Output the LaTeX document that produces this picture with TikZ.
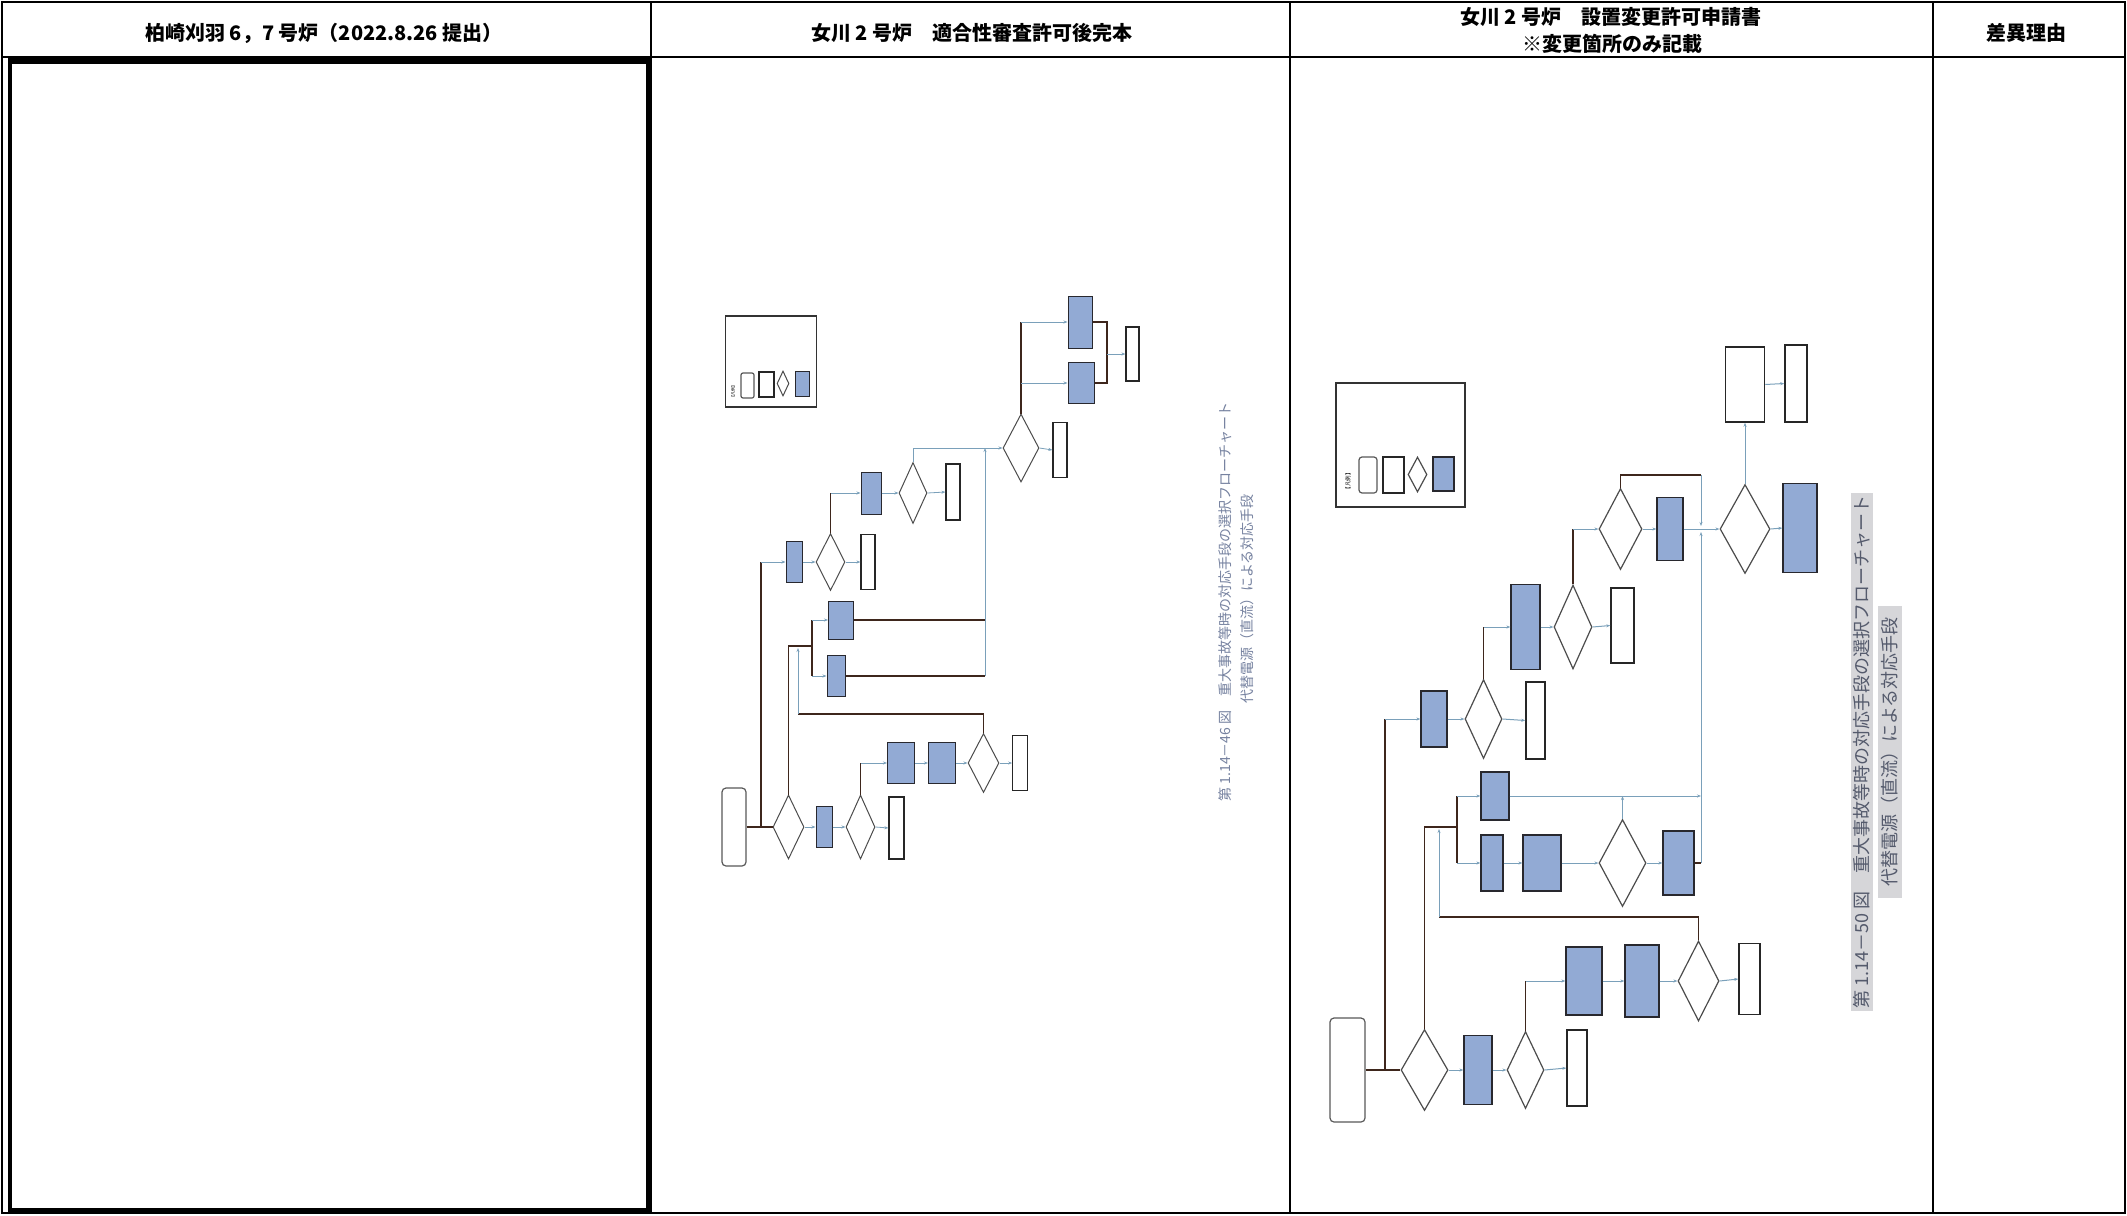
\documentclass[tikz,border=0pt]{standalone}
\usepackage{fontspec}
\setmainfont{Noto Sans CJK JP}
\usetikzlibrary{positioning, arrows.meta, shapes.geometric}

\definecolor{flowblue}{RGB}{122,160,186}
\definecolor{darkbrown}{RGB}{62,38,28}
\definecolor{boxblue}{RGB}{146,170,212}
\definecolor{boxedge}{RGB}{40,40,46}
\definecolor{capgray}{RGB}{214,214,217}
\definecolor{captext}{RGB}{84,90,108}
\definecolor{capfaint}{RGB}{118,130,160}

\begin{document}
\begin{tikzpicture}[x=1pt, y=-1pt]
	\tikzset{
		sz/.style 2 args={minimum width=#1pt, minimum height=#2pt, inner sep=0pt},
		bluebox/.style={rectangle, draw=boxedge, fill=boxblue, line width=1.3pt},
		whitebox/.style={rectangle, draw=black!85, fill=white, line width=1.5pt},
		decision/.style={diamond, draw=black!70, fill=white, line width=1.2pt},
		startbox/.style={rectangle, rounded corners=4pt, draw=black!65, fill=white, line width=1.2pt},
		legendbox/.style={rectangle, draw=black!80, line width=1.3pt},
		flowarrow/.style={draw=flowblue, line width=1pt, -{Stealth[length=4pt, width=3pt]}},
		darkline/.style={draw=darkbrown, line width=1.8pt},
		header/.style={font=\fontsize{20}{24}\selectfont\bfseries, align=center}
	}
	\fill[white] (0,0) rectangle (2127,1215);
	\useasboundingbox (0,0) rectangle (2127,1215);
	
	% 表の枠
	\draw[line width=1.5pt] (2,2) rectangle (2125,1213);
	\draw[line width=1.5pt] (2,57) -- (2125,57);
	\foreach \x in {651,1290,1933} {
		\draw[line width=1.5pt] (\x,2) -- (\x,1213);
	}
	\draw[line width=4pt] (10,62) rectangle (648,1210);
	\draw[line width=6pt] (8,60) -- (650,60);
	
	% 見出し
	\node[header] (hKK) at (324,33) {柏崎刈羽 6，7 号炉（2022.8.26 提出）};
	\node[header] (hOA) at (972,33) {女川 2 号炉　適合性審査許可後完本};
	\node[header] (hOBa) at (1611,17) {女川 2 号炉　設置変更許可申請書};
	\node[header] (hOBb) at (1612,44) {※変更箇所のみ記載};
	\node[header] (hDiff) at (2026,33) {差異理由};
	
	% 女川 許可後完本の図
	\begin{scope}[bluebox/.append style={line width=1pt}, whitebox/.append style={line width=1.2pt},
		decision/.append style={line width=1pt}, darkline/.append style={line width=1.4pt},
		flowarrow/.append style={line width=0.8pt}]
		\node[legendbox, sz={91}{91}] (oLeg) at (771,361.5) {};
		\node[rotate=90, font=\fontsize{4}{4}\selectfont] (oLegT) at (733,391) {【凡例】};
		\node[startbox, rounded corners=2pt, sz={13}{25}] (oLegS) at (747.5,385.5) {};
		\node[whitebox, sz={15}{25}] (oLegW) at (766.5,384.5) {};
		\node[decision, sz={12}{25}] (oLegD) at (783,383.5) {};
		\node[bluebox, sz={14}{25}] (oLegB) at (802,383.5) {};
		
		\node[startbox, sz={24}{78}] (oStart) at (734,827) {};
		\node[decision, sz={31}{64}] (oD1) at (788.5,827) {};
		\node[bluebox, sz={16}{41}] (oB2) at (824,827) {};
		\node[decision, sz={29}{64}] (oD2) at (860.5,827) {};
		\node[whitebox, sz={15}{62}] (oW2) at (896.5,828) {};
		\node[bluebox, sz={27}{41}] (oBD) at (901,763) {};
		\node[bluebox, sz={27}{41}] (oBE) at (942,763) {};
		\node[decision, sz={31}{59}] (oD5) at (983.5,763) {};
		\node[whitebox, sz={14.5}{55}] (oW5) at (1020,763) {};
		\node[bluebox, sz={16}{41}] (oB1) at (794,562) {};
		\node[decision, sz={29}{57}] (oD3) at (830.5,562) {};
		\node[whitebox, sz={14}{55}] (oW3) at (868,562) {};
		\node[bluebox, sz={20}{42}] (oBF) at (871,493) {};
		\node[decision, sz={28}{61}] (oD4) at (913,493) {};
		\node[whitebox, sz={14}{56}] (oW4) at (953,492) {};
		\node[decision, sz={36}{68}] (oD6) at (1021,448) {};
		\node[whitebox, sz={14}{55}] (oW6) at (1060,450) {};
		\node[bluebox, sz={25}{38}] (oBA) at (841,620) {};
		\node[bluebox, sz={18}{41}] (oBB) at (836,676) {};
		\node[bluebox, sz={24}{52}] (oBG) at (1080,322) {};
		\node[bluebox, sz={26}{41}] (oBH) at (1081,383) {};
		\node[whitebox, sz={13}{54}] (oW7) at (1132.5,354) {};
		
		% 下段の流れ
		\draw[darkline] (oStart.east) -- (oD1.west);
		\coordinate (oT1) at (761,827);
		\coordinate (oT2) at (761,562);
		\draw[darkline] (oT1) -- (oT2);
		\draw[flowarrow] (oT2) -- (oB1.west);
		\draw[flowarrow] (oD1.east) -- (oB2.west);
		\draw[flowarrow] (oB2.east) -- (oD2.west);
		\draw[flowarrow] (oD2.east) -- (oW2.west);
		\draw[darkline] (oD2.north) -- (oD2.north |- oBD.west);
		\draw[flowarrow] (oD2.north |- oBD.west) -- (oBD.west);
		\draw[flowarrow] (oBD.east) -- (oBE.west);
		\draw[flowarrow] (oBE.east) -- (oD5.west);
		\draw[flowarrow] (oD5.east) -- (oW5.west);
		\coordinate (oR1) at (798,714);
		\coordinate (oR2) at (798,648);
		\draw[darkline] (oD5.north) |- (oR1);
		\draw[flowarrow] (oR1) -- (oR2);
		
		% 中段
		\coordinate (oJ1) at (812,646);
		\draw[darkline] (oD1.north) |- (oJ1);
		\draw[darkline] (oJ1 |- oBA.west) -- (oJ1 |- oBB.west);
		\draw[flowarrow] (oJ1 |- oBA.west) -- (oBA.west);
		\draw[flowarrow] (oJ1 |- oBB.west) -- (oBB.west);
		\coordinate (oV1) at (985,448);
		\coordinate (oV2) at (985,676);
		\draw[darkline] (oBA.east) -- (oBA.east -| oV1);
		\draw[darkline] (oBB.east) -- (oV2);
		\draw[flowarrow] (oV2) -- (oV1);
		
		% 上段
		\draw[flowarrow] (oB1.east) -- (oD3.west);
		\draw[flowarrow] (oD3.east) -- (oW3.west);
		\draw[darkline] (oD3.north) -- (oD3.north |- oBF.west);
		\draw[flowarrow] (oD3.north |- oBF.west) -- (oBF.west);
		\draw[flowarrow] (oBF.east) -- (oD4.west);
		\draw[flowarrow] (oD4.east) -- (oW4.west);
		\draw[flowarrow] (oD4.north) |- (oD6.west);
		\draw[flowarrow] (oD6.east) -- (oW6.west);
		\draw[darkline] (oD6.north) -- (oD6.north |- oBG.west);
		\draw[flowarrow] (oD6.north |- oBG.west) -- (oBG.west);
		\draw[flowarrow] (oD6.north |- oBH.west) -- (oBH.west);
		\coordinate (oJ2) at (1107,354);
		\draw[darkline] (oBG.east) -| (oJ2) |- (oBH.east);
		\draw[flowarrow] (oJ2) -- (oW7.west);
	\end{scope}
	\node[rotate=90, text=capfaint, font=\fontsize{14}{14}\selectfont] (oCap1) at (1225,602) {第 1.14－46 図　重大事故等時の対応手段の選択フローチャート};
	\node[rotate=90, text=capfaint, font=\fontsize{14}{14}\selectfont] (oCap2) at (1247,599) {代替電源（直流）による対応手段};
	
	% 女川 設置変更許可申請書の図
	\node[legendbox, sz={129}{124}] (nLeg) at (1400.5,445) {};
	\node[rotate=90, font=\fontsize{5.5}{5.5}\selectfont] (nLegT) at (1348,481) {【凡例】};
	\node[startbox, rounded corners=3pt, sz={18}{36}] (nLegS) at (1368,475) {};
	\node[whitebox, sz={21}{36}] (nLegW) at (1393.5,475) {};
	\node[decision, sz={19}{35}] (nLegD) at (1417.5,474.5) {};
	\node[bluebox, sz={21}{34}] (nLegB) at (1443.5,474) {};
	
	\node[startbox, sz={35}{104}] (nStart) at (1347.5,1070) {};
	\node[decision, sz={47}{81}] (nD1) at (1424.5,1070) {};
	\node[bluebox, sz={28}{69}] (nB1) at (1478,1070) {};
	\node[decision, sz={37}{77}] (nD2) at (1525.5,1070) {};
	\node[whitebox, sz={20}{76}] (nW2) at (1577,1068) {};
	\node[bluebox, sz={36}{68}] (nP1) at (1584,981) {};
	\node[bluebox, sz={34}{72}] (nP2) at (1642,981) {};
	\node[decision, sz={41}{80}] (nDN) at (1698.5,981) {};
	\node[whitebox, sz={21}{71}] (nWN) at (1749.5,979) {};
	\node[bluebox, sz={28}{48}] (nT) at (1495,796) {};
	\node[bluebox, sz={22}{56}] (nK) at (1492,863) {};
	\node[bluebox, sz={38}{56}] (nL) at (1542,863) {};
	\node[decision, sz={47}{87}] (nM) at (1622.5,863) {};
	\node[bluebox, sz={31}{64}] (nO) at (1678.5,863) {};
	\node[bluebox, sz={26}{56}] (nU) at (1434,719) {};
	\node[decision, sz={37}{79}] (nDV) at (1483.5,719) {};
	\node[whitebox, sz={19}{77}] (nWV) at (1535.5,720.5) {};
	\node[bluebox, sz={29}{85}] (nW) at (1525.5,627) {};
	\node[decision, sz={38}{84}] (nDX) at (1573,627) {};
	\node[whitebox, sz={23}{75}] (nWX) at (1622.5,625.5) {};
	\node[decision, sz={43}{81}] (nDY) at (1620.5,529) {};
	\node[bluebox, sz={26}{63}] (nS) at (1670,529) {};
	\node[decision, sz={50}{89}] (nZ) at (1745,529) {};
	\node[bluebox, sz={34}{89}] (nR) at (1800,528) {};
	\node[whitebox, sz={39}{75}] (nP) at (1745,384.5) {};
	\node[whitebox, sz={22}{77}] (nQ) at (1796,383.5) {};
	
	% 下段の流れ
	\draw[darkline] (nStart.east) -- (nD1.west);
	\coordinate (nT1) at (1385,1070);
	\coordinate (nT2) at (1385,719);
	\draw[darkline] (nT1) -- (nT2);
	\draw[flowarrow] (nT2) -- (nU.west);
	\draw[flowarrow] (nD1.east) -- (nB1.west);
	\draw[flowarrow] (nB1.east) -- (nD2.west);
	\draw[flowarrow] (nD2.east) -- (nW2.west);
	\draw[darkline] (nD2.north) -- (nD2.north |- nP1.west);
	\draw[flowarrow] (nD2.north |- nP1.west) -- (nP1.west);
	\draw[flowarrow] (nP1.east) -- (nP2.west);
	\draw[flowarrow] (nP2.east) -- (nDN.west);
	\draw[flowarrow] (nDN.east) -- (nWN.west);
	\coordinate (nR1) at (1439,917);
	\coordinate (nR2) at (1439,829);
	\draw[darkline] (nDN.north) |- (nR1);
	\draw[flowarrow] (nR1) -- (nR2);
	
	% 中段
	\coordinate (nJ1) at (1457,827);
	\draw[darkline] (nD1.north) |- (nJ1);
	\draw[darkline] (nJ1 |- nT.west) -- (nJ1 |- nK.west);
	\draw[flowarrow] (nJ1 |- nT.west) -- (nT.west);
	\draw[flowarrow] (nJ1 |- nK.west) -- (nK.west);
	\draw[flowarrow] (nK.east) -- (nL.west);
	\draw[flowarrow] (nL.east) -- (nM.west);
	\draw[flowarrow] (nM.east) -- (nO.west);
	\coordinate (nV1) at (1701,475);
	\coordinate (nV2) at (1701,863);
	\coordinate (nV3) at (1701,532);
	\coordinate (nV4) at (1701,526);
	\draw[darkline] (nO.east) -- (nV2);
	\draw[flowarrow] (nT.east) -- (nT.east -| nV1);
	\draw[flowarrow] (nM.north) -- (nM.north |- nT.east);
	\draw[flowarrow] (nV2) -- (nV3);
	
	% 上段
	\draw[flowarrow] (nU.east) -- (nDV.west);
	\draw[flowarrow] (nDV.east) -- (nWV.west);
	\draw[darkline] (nDV.north) -- (nDV.north |- nW.west);
	\draw[flowarrow] (nDV.north |- nW.west) -- (nW.west);
	\draw[flowarrow] (nW.east) -- (nDX.west);
	\draw[flowarrow] (nDX.east) -- (nWX.west);
	\draw[darkline] (nDX.north) -- (nDX.north |- nDY.west);
	\draw[flowarrow] (nDX.north |- nDY.west) -- (nDY.west);
	\draw[darkline] (nDY.north) |- (nV1);
	\draw[flowarrow] (nV1) -- (nV4);
	\draw[flowarrow] (nDY.east) -- (nS.west);
	\draw[flowarrow] (nS.east) -- (nZ.west);
	\draw[flowarrow] (nZ.east) -- (nR.west);
	\draw[flowarrow] (nZ.north) -- (nP.south);
	\draw[flowarrow] (nP.east) -- (nQ.west);
	
	\node[rotate=90, fill=capgray, text=captext, font=\fontsize{18}{18}\selectfont, inner sep=3pt] (nCap1) at (1862,752) {第 1.14－50 図　重大事故等時の対応手段の選択フローチャート};
	\node[rotate=90, fill=capgray, text=captext, font=\fontsize{18}{18}\selectfont, inner sep=3pt, minimum width=292pt] (nCap2) at (1890,752) {代替電源（直流）による対応手段};
\end{tikzpicture}
\end{document}
